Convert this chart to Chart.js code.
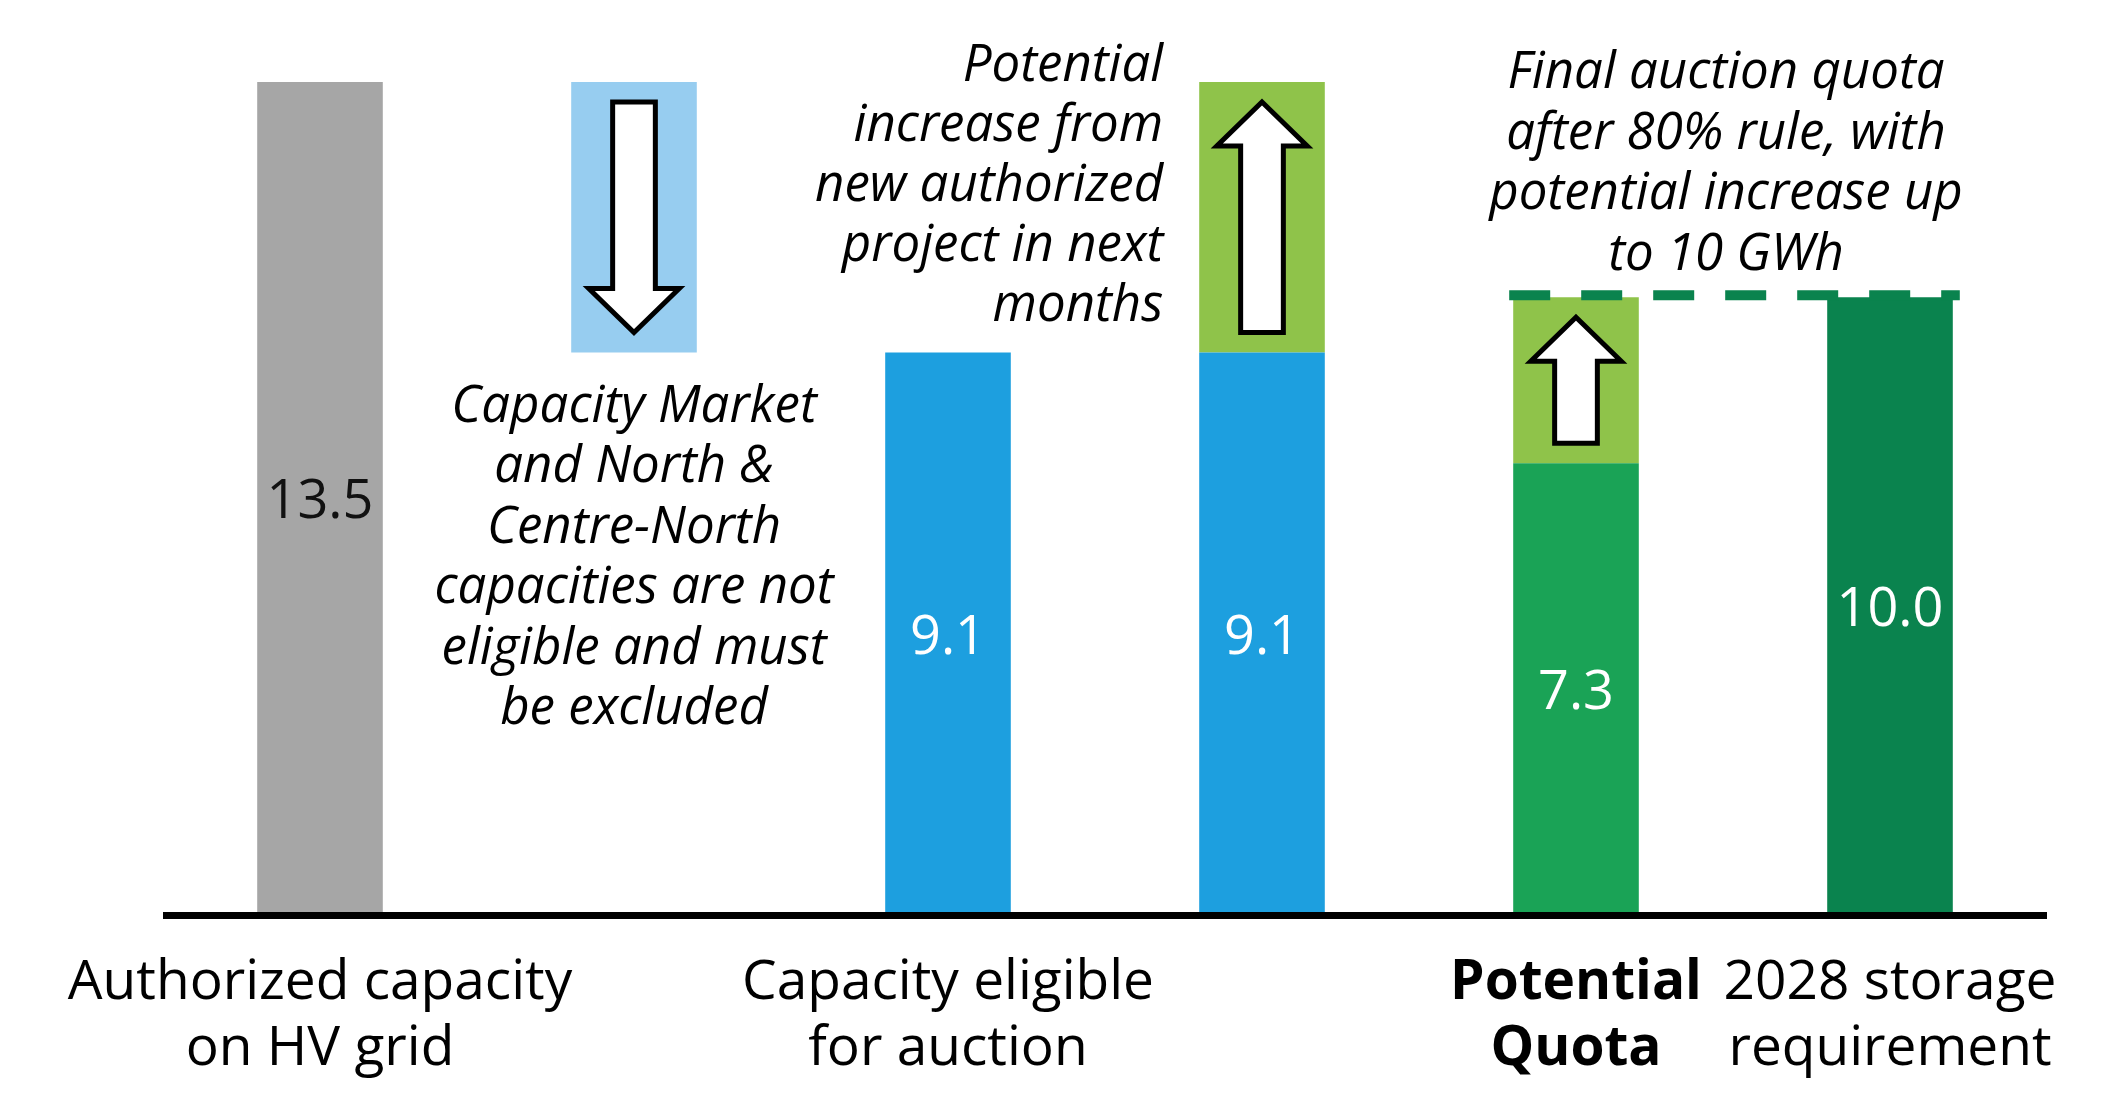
<!DOCTYPE html>
<html>
<head>
<meta charset="utf-8">
<script src="https://cdn.jsdelivr.net/npm/chart.js@4.4.1/dist/chart.umd.min.js"></script>
<style>
  html, body { margin: 0; padding: 0; background: #fff; overflow: hidden; }
</style>
</head>
<body>
<canvas id="barChart" width="2113" height="1113"></canvas>
<script>
// categories and values (GWh)
const categories = [['Authorized capacity', 'on HV grid'], '', ['Capacity eligible', 'for auction'], '', ['Potential', 'Quota'], ['2028 storage', 'requirement']];
const baseValues = [13.5, null, 9.1, 9.1, 7.3, 10.0];
const deltaLow = [null, 9.1, null, 9.1, 7.3, null];
const deltaHigh = [null, 13.5, null, 13.5, 10.0, null];
const arrowDirs = [null, 'down', null, 'up', 'up', null];
const targetValue = 10.0;

const baseColors = ['#a6a6a6', 'transparent', '#1d9fdf', '#1d9fdf', '#1aa356', '#0a834e'];
const deltaColors = ['transparent', '#97cdf0', 'transparent', '#8fc34a', '#8fc34a', 'transparent'];

const noteExcluded = ['Capacity Market', 'and North &', 'Centre-North', 'capacities are not', 'eligible and must', 'be excluded'];
const noteIncrease = ['Potential', 'increase from', 'new authorized', 'project in next', 'months'];
const noteQuota = ['Final auction quota', 'after 80% rule, with', 'potential increase up', 'to 10 GWh'];

const FONT = '"Open Sans", "Noto Sans", sans-serif';

const drawArrow = (ctx, bar, dir) => {
	const top = Math.min(bar.y, bar.base);
	const bottom = Math.max(bar.y, bar.base);
	const pad = 20;
	const headLen = 44;
	const headW = bar.width * 0.72;
	const shaftW = bar.width * 0.34;
	const cx = bar.x;
	let tip, tail, s;
	if (dir === 'down') { tip = bottom - pad; tail = top + pad; s = -1; }
	else { tip = top + pad; tail = bottom - pad; s = 1; }
	const neck = tip + s * headLen;

	ctx.beginPath();
	ctx.moveTo(cx, tip);
	ctx.lineTo(cx + headW / 2, neck);
	ctx.lineTo(cx + shaftW / 2, neck);
	ctx.lineTo(cx + shaftW / 2, tail);
	ctx.lineTo(cx - shaftW / 2, tail);
	ctx.lineTo(cx - shaftW / 2, neck);
	ctx.lineTo(cx - headW / 2, neck);
	ctx.closePath();
	ctx.fillStyle = '#fff';
	ctx.fill();
	ctx.lineWidth = 5;
	ctx.lineJoin = 'miter';
	ctx.strokeStyle = '#000';
	ctx.stroke();
};

const overlay = {
	id: 'overlay',
	afterDatasetsDraw(chart) {
		const { ctx, chartArea, scales: { y } } = chart;
		const baseMeta = chart.getDatasetMeta(0);
		const deltaMeta = chart.getDatasetMeta(1);

		ctx.save();

		// axis line
		const zeroY = y.getPixelForValue(0);
		ctx.fillStyle = '#000';
		ctx.fillRect(chartArea.left, zeroY, chartArea.right - chartArea.left, 7);

		// value labels in the middle of bars
		ctx.font = '54px ' + FONT;
		ctx.textAlign = 'center';
		ctx.textBaseline = 'middle';
		baseMeta.data.forEach((bar, i) => {
			const v = baseValues[i];
			if (v == null) return;
			ctx.fillStyle = i === 0 ? '#111' : '#fff';
			ctx.fillText(v.toFixed(1), bar.x, (bar.y + bar.base) / 2 + 6);
		});

		// arrows
		deltaMeta.data.forEach((bar, i) => {
			if (arrowDirs[i]) drawArrow(ctx, bar, arrowDirs[i]);
		});

		// dashed target line
		const t = y.getPixelForValue(targetValue);
		const b5 = deltaMeta.data[4];
		const b6 = baseMeta.data[5];
		ctx.strokeStyle = '#0a834e';
		ctx.lineWidth = 10;
		ctx.setLineDash([41, 31]);
		ctx.beginPath();
		ctx.moveTo(b5.x - b5.width / 2 - 4, t - 2);
		ctx.lineTo(b6.x + b6.width / 2 + 7, t - 2);
		ctx.stroke();
		ctx.setLineDash([]);

		// notes
		ctx.font = 'italic 51px ' + FONT;
		ctx.fillStyle = '#000';
		ctx.textBaseline = 'alphabetic';

		const b2 = deltaMeta.data[1];
		ctx.textAlign = 'center';
		noteExcluded.forEach((line, k) => {
			ctx.fillText(line, b2.x, Math.max(b2.y, b2.base) + 69 + k * 60.5);
		});

		const b4 = deltaMeta.data[3];
		ctx.textAlign = 'right';
		noteIncrease.forEach((line, k) => {
			ctx.fillText(line, b4.x - b4.width / 2 - 36, Math.min(b4.y, b4.base) - 1 + k * 60);
		});

		ctx.textAlign = 'center';
		const qx = (b5.x + b6.x) / 2 - 7;
		noteQuota.forEach((line, k) => {
			ctx.fillText(line, qx, t - 27 - (noteQuota.length - 1 - k) * 60.7);
		});

		ctx.restore();
	}
};

const ctx = document.getElementById('barChart').getContext('2d');

const barChart = new Chart(ctx, {
	type: 'bar',
	data: {
		labels: categories,
		datasets: [{
			label: 'Value',
			data: baseValues,
			backgroundColor: baseColors,
			grouped: false,
			barPercentage: 0.4,
			categoryPercentage: 1.0
		}, {
			label: 'Change',
			data: deltaLow.map((v, i) => v == null ? null : [v, deltaHigh[i]]),
			backgroundColor: deltaColors,
			grouped: false,
			barPercentage: 0.4,
			categoryPercentage: 1.0
		}]
	},
	options: {
		responsive: false,
		devicePixelRatio: 1,
		animation: false,
		layout: { padding: { top: 82, left: 163, right: 66, bottom: 0 } },
		plugins: {
			legend: { display: false },
			tooltip: { enabled: false }
		},
		scales: {
			x: {
				grid: { display: false, drawTicks: false },
				border: { display: false },
				afterFit: (scale) => { scale.height = 201; },
				ticks: {
					color: '#000',
					padding: 39,
					maxRotation: 0,
					autoSkip: false,
					font: (c) => ({
						family: FONT,
						size: 55,
						lineHeight: 1.19,
						weight: c.index === 4 ? 'bold' : 'normal'
					})
				}
			},
			y: {
				display: false,
				min: 0,
				max: 13.5
			}
		}
	},
	plugins: [overlay]
});
</script>
</body>
</html>
